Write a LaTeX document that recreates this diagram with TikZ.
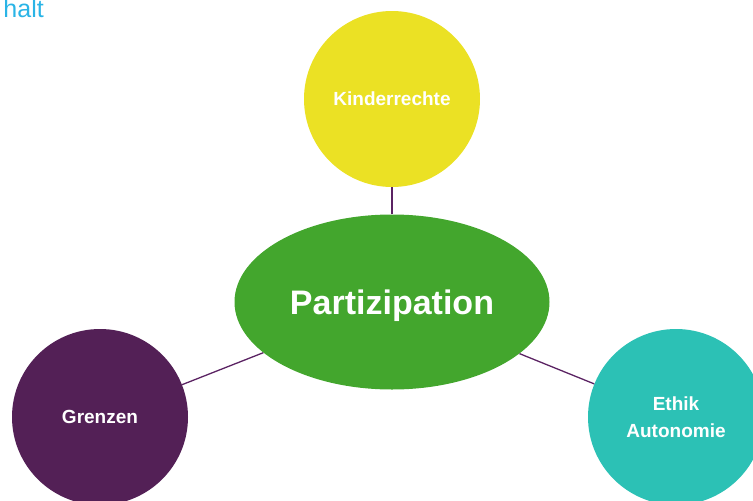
\documentclass[tikz,border=0pt]{standalone}
\usepackage{fontspec}
\setmainfont{Liberation Sans}
\usetikzlibrary{shapes.geometric}

\definecolor{topicyellow}{HTML}{EBE124}
\definecolor{coregreen}{HTML}{43A62D}
\definecolor{topicpurple}{HTML}{532056}
\definecolor{topicteal}{HTML}{2CC1B5}
\definecolor{linkpurple}{HTML}{5B2363}
\definecolor{titleblue}{HTML}{2AB4E6}

\tikzset{
  topic/.style={circle, minimum size=176pt, inner sep=0pt, text=white,
    align=center, font=\fontsize{19}{27.5}\selectfont\bfseries},
  core/.style={ellipse, minimum width=315pt, minimum height=175pt, inner sep=0pt,
    fill=coregreen, text=white, text depth=0pt,
    font=\fontsize{34}{40}\selectfont\bfseries},
  link/.style={draw=linkpurple, line width=1.3pt},
}

\begin{document}
\begin{tikzpicture}[x=1pt,y=-1pt]
  \useasboundingbox (0,0) rectangle (753,501);

  % heading in the top-left corner
  \node[anchor=base east, inner sep=0pt, text=titleblue,
        font=\fontsize{25}{28}\selectfont] (title) at (44,17) {halt};

  % central idea and the three surrounding topics
  \node[core] (core) at (392,302) {Partizipation};
  \node[topic, fill=topicyellow] (rights) at (392,99) {Kinderrechte};
  \node[topic, fill=topicpurple] (limits) at (100,417) {Grenzen};
  \node[topic, fill=topicteal] (ethics) at (676,417) {Ethik\\Autonomie};

  % connectors from the core to each topic
  \draw[link] (core) -- (rights);
  \draw[link] (core) -- (limits);
  \draw[link] (core) -- (ethics);
\end{tikzpicture}
\end{document}
